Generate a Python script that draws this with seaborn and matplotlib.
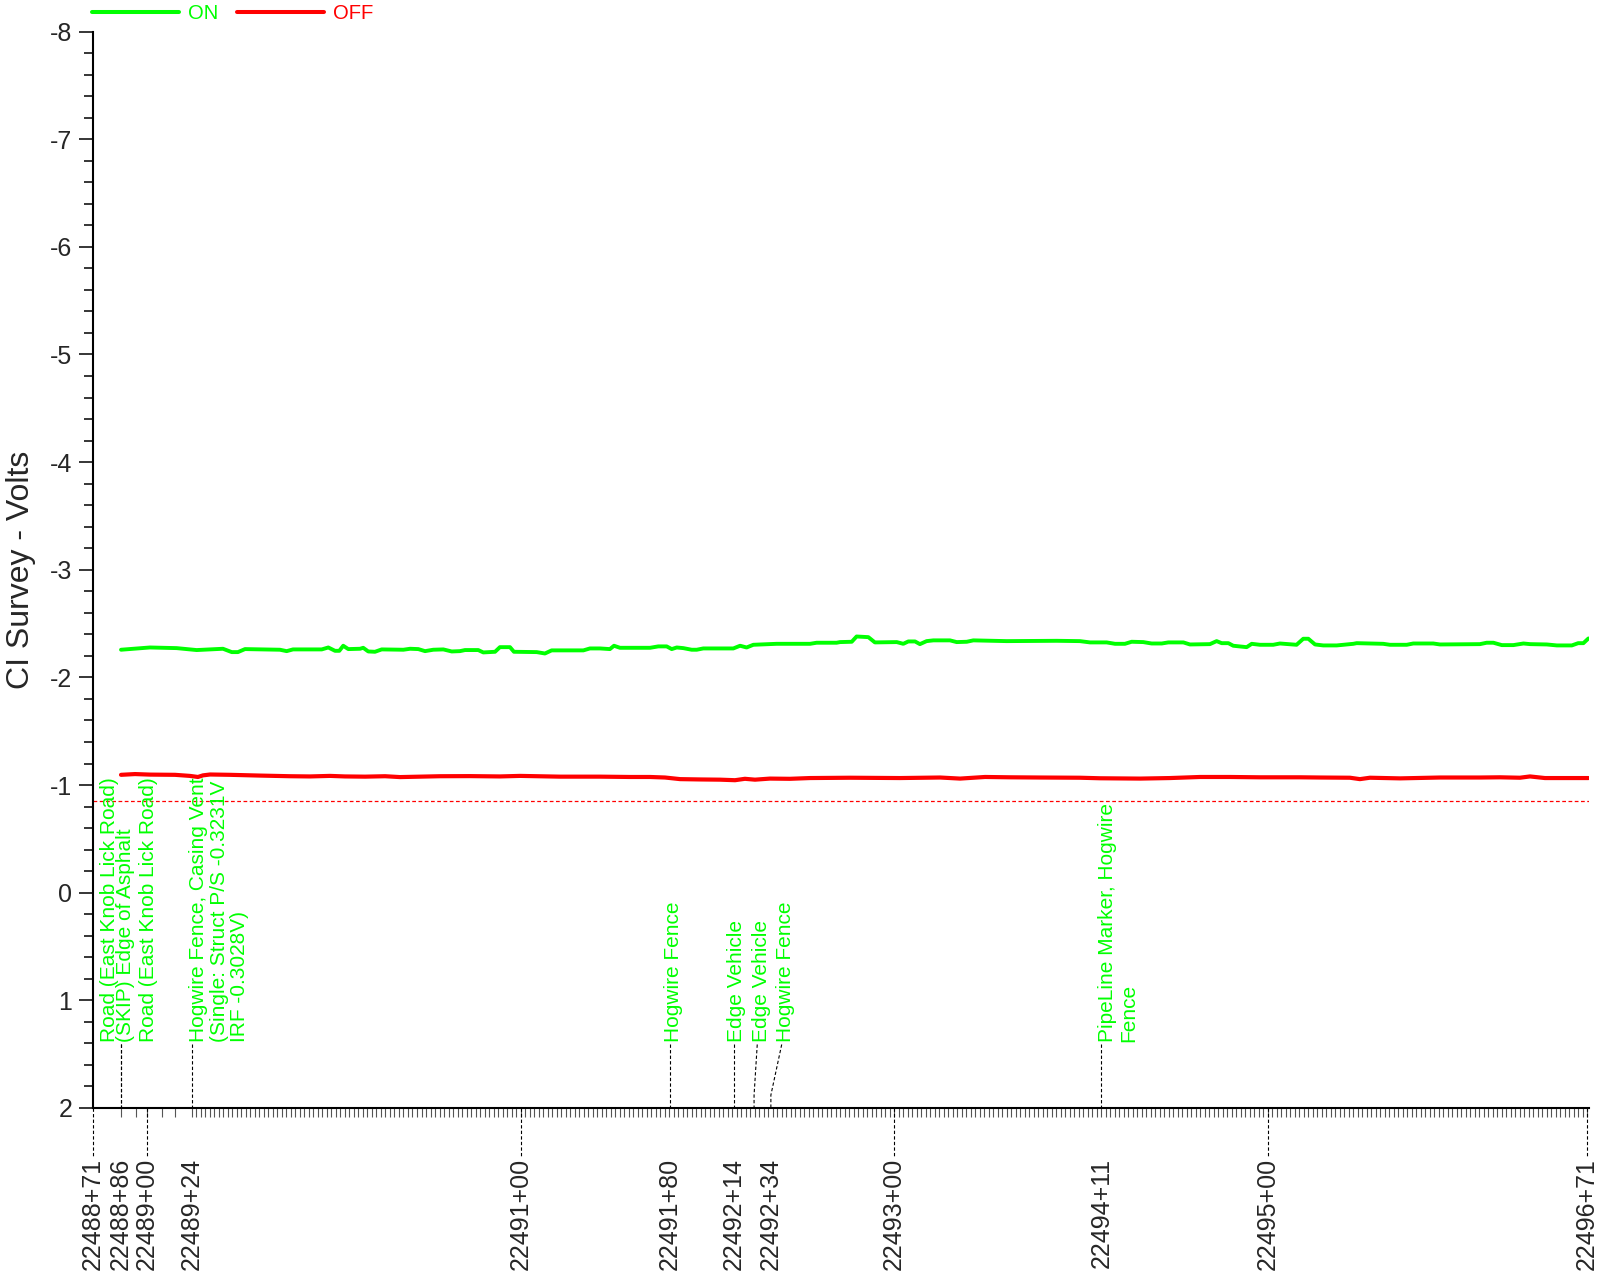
import numpy as np
import pandas as pd
import matplotlib
matplotlib.use("Agg")
import matplotlib.pyplot as plt
import matplotlib.transforms as mtransforms
from matplotlib.lines import Line2D
from matplotlib.ticker import FixedLocator, FuncFormatter
import seaborn as sns

# ---- data: stations in feet (22488+71 -> 2248871), potentials in volts ----
on_station = [2248886, 2248901.5, 2248915.8, 2248926.5, 2248940.6, 2248945.3, 2248948.6, 2248952.4,
              2248960.4, 2248971.1, 2248974.7, 2248978.1, 2248993.5, 2248997.0, 2249000.6, 2249002.9,
              2249005.0, 2249007.7, 2249014.0, 2249015.7, 2249018.4, 2249022.0, 2249025.6, 2249037.2,
              2249040.8, 2249045.2, 2249048.8, 2249053.2, 2249058.6, 2249063.1, 2249067.5, 2249070.2,
              2249077.3, 2249080.0, 2249086.3, 2249088.9, 2249094.3, 2249096.4, 2249108.6, 2249113.0,
              2249116.6, 2249133.6, 2249137.1, 2249142.5, 2249147.8, 2249150.0, 2249153.2, 2249169.3,
              2249173.7, 2249178.2, 2249180.9, 2249183.6, 2249187.1, 2249191.6, 2249194.3, 2249197.8,
              2249213.9, 2249217.5, 2249221.0, 2249224.6, 2249237.1, 2249255.0, 2249258.5, 2249269.2,
              2249271.0, 2249277.3, 2249279.9, 2249286.2, 2249289.7, 2249301.4, 2249304.9, 2249307.6,
              2249311.2, 2249313.8, 2249317.4, 2249321.0, 2249329.9, 2249333.5, 2249338.9, 2249342.4,
              2249360.3, 2249387.0, 2249399.5, 2249404.9, 2249413.8, 2249418.3, 2249423.6, 2249427.2,
              2249433.4, 2249437.9, 2249443.3, 2249446.8, 2249454.9, 2249458.4, 2249469.1, 2249472.7,
              2249475.4, 2249479.0, 2249481.6, 2249488.8, 2249491.5, 2249495.9, 2249503.0, 2249506.6,
              2249515.5, 2249519.1, 2249521.8, 2249525.4, 2249529.8, 2249537.0, 2249545.9, 2249547.7,
              2249561.9, 2249565.5, 2249574.5, 2249578.0, 2249588.7, 2249592.3, 2249613.7, 2249617.3,
              2249620.9, 2249625.4, 2249631.6, 2249637.0, 2249640.6, 2249649.5, 2249654.9, 2249662.9,
              2249666.3, 2249669.1, 2249671.8]
on_volts = [-2.257, -2.278, -2.272, -2.254, -2.266, -2.235, -2.235, -2.263,
            -2.260, -2.257, -2.244, -2.260, -2.260, -2.278, -2.247, -2.247,
            -2.294, -2.263, -2.266, -2.275, -2.241, -2.238, -2.260, -2.257,
            -2.266, -2.263, -2.244, -2.257, -2.260, -2.241, -2.244, -2.254,
            -2.254, -2.232, -2.238, -2.281, -2.281, -2.238, -2.235, -2.222,
            -2.251, -2.251, -2.269, -2.269, -2.263, -2.294, -2.275, -2.275,
            -2.288, -2.288, -2.263, -2.278, -2.272, -2.257, -2.257, -2.269,
            -2.269, -2.294, -2.278, -2.303, -2.312, -2.312, -2.322, -2.322,
            -2.328, -2.331, -2.380, -2.374, -2.325, -2.328, -2.312, -2.334,
            -2.334, -2.309, -2.337, -2.344, -2.344, -2.328, -2.331, -2.344,
            -2.337, -2.340, -2.337, -2.325, -2.325, -2.312, -2.312, -2.331,
            -2.328, -2.315, -2.315, -2.325, -2.325, -2.306, -2.309, -2.337,
            -2.318, -2.318, -2.294, -2.281, -2.312, -2.303, -2.303, -2.315,
            -2.303, -2.359, -2.359, -2.306, -2.297, -2.297, -2.312, -2.318,
            -2.312, -2.303, -2.303, -2.315, -2.315, -2.306, -2.309, -2.322,
            -2.322, -2.300, -2.300, -2.315, -2.309, -2.306, -2.297, -2.297,
            -2.318, -2.318, -2.362]

off_station = [2248886, 2248893.5, 2248901.5, 2248914.9, 2248922.9, 2248927.2, 2248929.9, 2248933.7,
               2248944.4, 2248960.4, 2248976.5, 2248987.2, 2248997.9, 2249005.9, 2249016.7, 2249027.4,
               2249035.4, 2249046.1, 2249056.8, 2249072.9, 2249088.9, 2249099.7, 2249121.1, 2249142.5,
               2249158.6, 2249169.3, 2249177.3, 2249185.4, 2249196.1, 2249206.8, 2249214.8, 2249220.1,
               2249225.5, 2249233.5, 2249244.2, 2249254.9, 2249276.4, 2249303.1, 2249324.6, 2249335.3,
               2249348.7, 2249362.0, 2249378.1, 2249399.5, 2249410.2, 2249431.7, 2249447.7, 2249463.8,
               2249479.9, 2249495.9, 2249517.3, 2249528.0, 2249544.1, 2249549.4, 2249554.8, 2249570.9,
               2249592.3, 2249613.7, 2249624.4, 2249635.1, 2249640.5, 2249648.5, 2249656.5, 2249671.8]
off_volts = [-1.095, -1.102, -1.097, -1.095, -1.085, -1.075, -1.090, -1.098,
             -1.095, -1.088, -1.082, -1.080, -1.085, -1.080, -1.078, -1.082,
             -1.074, -1.078, -1.082, -1.083, -1.080, -1.085, -1.078, -1.078,
             -1.075, -1.075, -1.070, -1.055, -1.052, -1.050, -1.045, -1.058,
             -1.050, -1.060, -1.058, -1.065, -1.068, -1.065, -1.070, -1.060,
             -1.075, -1.072, -1.070, -1.068, -1.063, -1.060, -1.065, -1.075,
             -1.075, -1.072, -1.072, -1.070, -1.068, -1.055, -1.068, -1.062,
             -1.070, -1.070, -1.072, -1.068, -1.080, -1.065, -1.065, -1.065]

criterion_volts = -0.85

# labelled stations along the bottom axis
station_ticks = [2248871, 2248886, 2248900, 2248924, 2249100, 2249180, 2249214,
                 2249234, 2249300, 2249411, 2249500, 2249671]
hundred_ticks = [2248871, 2248900, 2249100, 2249300, 2249500, 2249671]

# field comments (station, text)
event_station = [2248886, 2248886, 2248900, 2248924, 2249180, 2249214, 2249225, 2249234, 2249411]
event_text = ["Road (East Knob Lick Road)",
              "(SKIP) Edge of Asphalt",
              "Road (East Knob Lick Road)",
              "Hogwire Fence, Casing Vent\n(Single: Struct P/S -0.3231V\nIRF -0.3028V)",
              "Hogwire Fence",
              "Edge Vehicle",
              "Edge Vehicle",
              "Hogwire Fence",
              "PipeLine Marker, Hogwire\nFence"]

# ---- layout for the comments (ft shifts of label and leader top) ----
label_shift = [-5.9, 2.4, 0.5, 14.7, 2.1, 1.7, 4.1, 7.6, 8.9]
leader_shift = [0, 0, None, 0, 0, 0, 1.7, 5.8, 0]

GREEN = "#00FF00"
RED = "#FF0000"

sns.set_style("ticks")
plt.rcParams['font.family'] = ['Liberation Sans', 'DejaVu Sans']
plt.rcParams['axes.unicode_minus'] = False

fig = plt.figure(figsize=(16.01, 12.79), dpi=100)
ax = fig.add_axes([93 / 1601, 1 - 1108 / 1279, 1496 / 1601, (1108 - 31.5) / 1279])

on_df = pd.DataFrame({'station': on_station, 'volts': on_volts})
off_df = pd.DataFrame({'station': off_station, 'volts': off_volts})
sns.lineplot(data=on_df, x='station', y='volts', ax=ax, color=GREEN, lw=2.8,
             estimator=None, sort=False)
sns.lineplot(data=off_df, x='station', y='volts', ax=ax, color=RED, lw=3.0,
             estimator=None, sort=False)
ax.axhline(criterion_volts, color=RED, lw=0.9, ls=(0, (3, 2)))

ax.set_xlim(2248871, 2249672.1)
ax.set_ylim(2, -8)

# y axis
ax.set_yticks(np.arange(-8, 3, 1))
ax.set_yticks(np.arange(-8, 2.01, 0.2), minor=True)
ax.tick_params(axis='y', which='major', length=10, width=1.1, labelsize=18, pad=5, color='black')
ax.tick_params(axis='y', which='minor', length=6.5, width=1.1, color='black')
ax.set_ylabel("CI Survey - Volts", fontsize=23)
ax.yaxis.set_label_coords(-0.038, 0.5)

# x axis
ax.xaxis.remove_overlapping_locs = False
ax.xaxis.set_major_locator(FixedLocator(station_ticks))
ax.xaxis.set_major_formatter(FuncFormatter(lambda v, p: f"{int(round(v)) // 100}+{int(round(v)) % 100:02d}"))
reading_ticks = [2248886, 2248894, 2248900, 2248908, 2248915] + list(np.arange(2248924, 2249672, 2.41))
ax.xaxis.set_minor_locator(FixedLocator(reading_ticks))
ax.tick_params(axis='x', which='major', length=0, labelsize=18, pad=36, labelrotation=90)
ax.tick_params(axis='x', which='minor', length=6.5, width=0.8, color='#555555')
ax.set_xlabel("")

for s in ['top', 'right']:
    ax.spines[s].set_visible(False)
for s in ['left', 'bottom']:
    ax.spines[s].set_linewidth(1.5)
    ax.spines[s].set_color('black')

# dashed connectors from the axis down to the hundred labels
trans = mtransforms.blended_transform_factory(ax.transData, ax.transAxes)
for st in hundred_ticks:
    ax.plot([st, st], [0, -50 / 1076.5], transform=trans, clip_on=False,
            color='black', lw=0.8, ls=(0, (3, 2)))

# field comments with leaders
for st, txt, dx, lx in zip(event_station, event_text, label_shift, leader_shift):
    ax.text(st + dx, 1.387, txt, rotation=90, ha='center', va='bottom', color=GREEN,
            fontsize=15, linespacing=1.1, multialignment='left')
    if lx is not None:
        ax.plot([st + lx, st, st], [1.41, 1.88, 2], color='black', lw=0.8, ls=(0, (3, 2)))

# legend
handles = [Line2D([], [], color=GREEN, lw=2.9), Line2D([], [], color=RED, lw=2.9)]
leg = fig.legend(handles, ["ON", "OFF"], loc='upper left', bbox_to_anchor=(92 / 1601, 1 - 4 / 1279),
                 ncol=2, frameon=False, fontsize=14.6, handlelength=4.3, handletextpad=0.45,
                 columnspacing=0.9, borderpad=0, borderaxespad=0)
for t, c in zip(leg.get_texts(), [GREEN, RED]):
    t.set_color(c)

fig.savefig("out.png", dpi=100)
